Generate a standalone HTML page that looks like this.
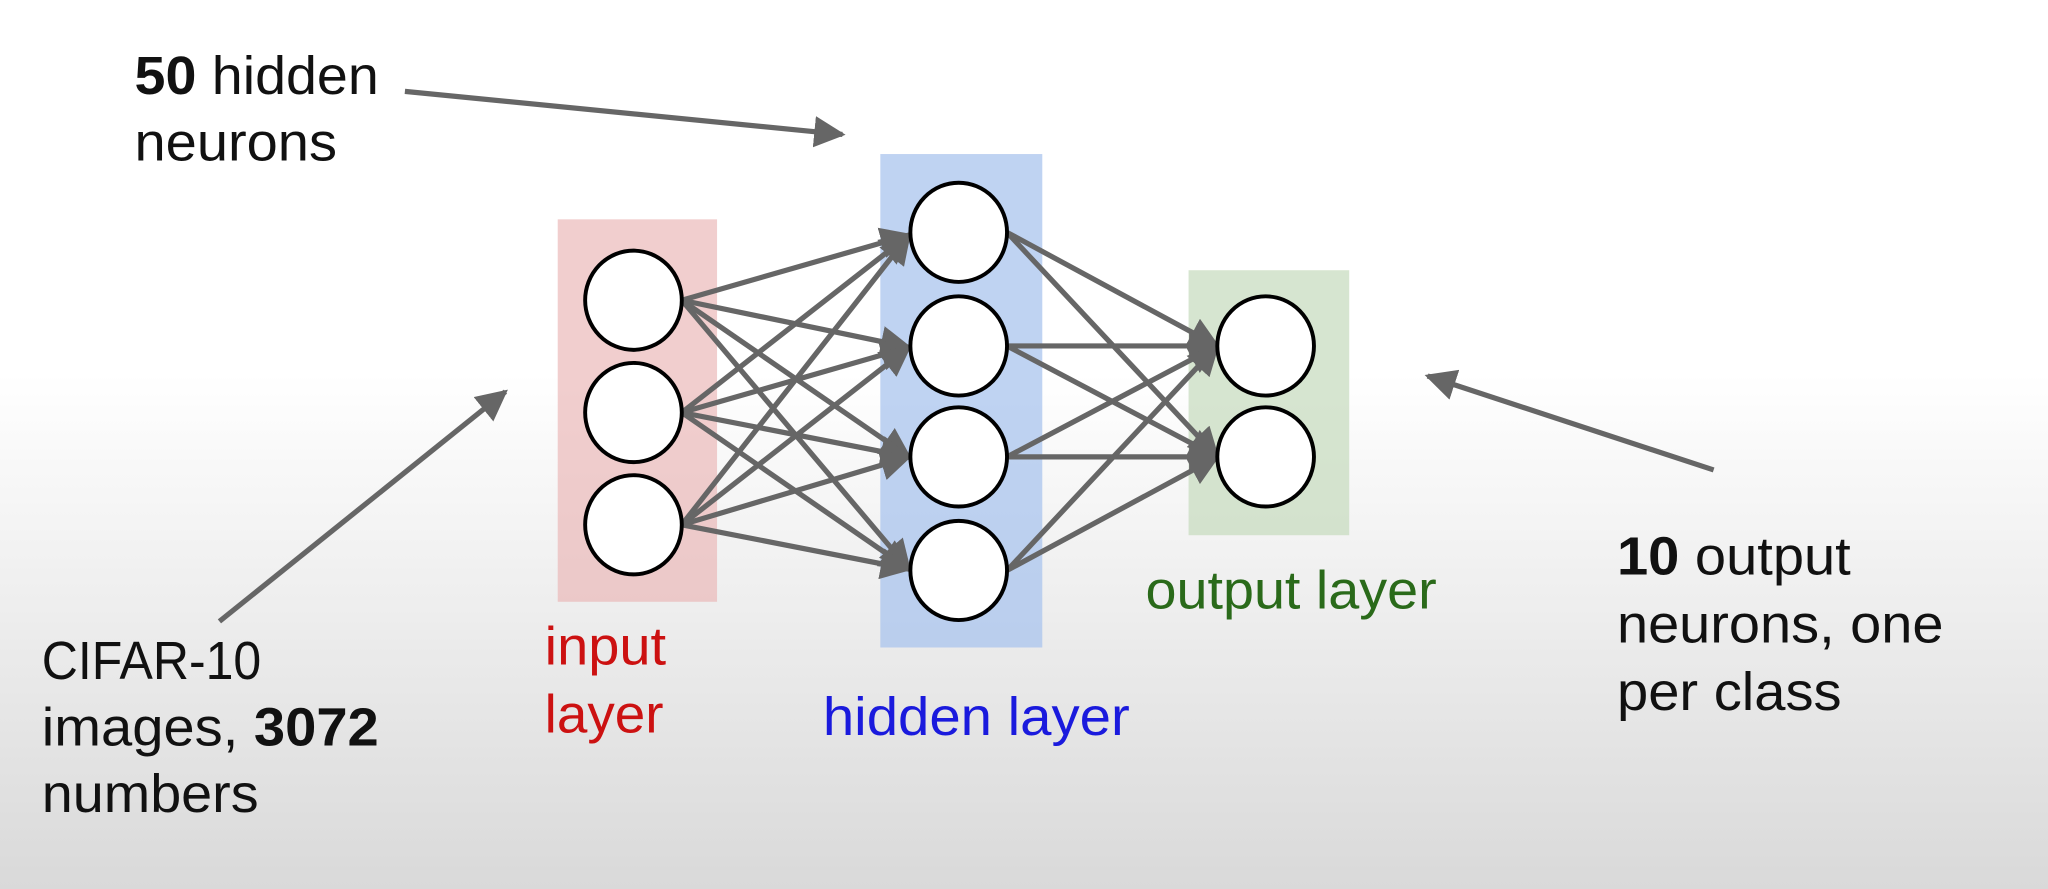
<!DOCTYPE html>
<html><head><meta charset="utf-8"><style>
html,body{margin:0;padding:0;width:2048px;height:889px;overflow:hidden}
svg{display:block}
text{font-family:"Liberation Sans",Arial,sans-serif;font-size:41px}
</style></head><body>
<svg width="2048" height="889" viewBox="0 0 1568 681" preserveAspectRatio="none" xmlns="http://www.w3.org/2000/svg">
<defs>
<linearGradient id="bg" x1="0" y1="0" x2="0" y2="1">
<stop offset="0" stop-color="#ffffff"/>
<stop offset="0.42" stop-color="#ffffff"/>
<stop offset="1" stop-color="#d9d9d9"/>
</linearGradient>
<marker id="ah" viewBox="0 0 10 10" refX="9" refY="5" markerWidth="6" markerHeight="6" markerUnits="strokeWidth" orient="auto">
<path d="M0,0 L10,5 L0,10 z" fill="#666"/>
</marker>
</defs>
<rect x="0" y="0" width="1568" height="681" fill="url(#bg)"/>
<rect x="427" y="168" width="122" height="293" fill="#e9b3b3" opacity="0.65"/>
<rect x="674" y="118" width="124" height="378" fill="#a9c4ee" opacity="0.75"/>
<rect x="910" y="207" width="123" height="203" fill="#c8dcc0" opacity="0.75"/>
<g stroke="#666" stroke-width="4" fill="none" marker-end="url(#ah)">
<line x1="522" y1="230" x2="696" y2="180"/>
<line x1="522" y1="230" x2="696" y2="266"/>
<line x1="522" y1="230" x2="696" y2="350"/>
<line x1="522" y1="230" x2="696" y2="436"/>
<line x1="522" y1="316" x2="696" y2="180"/>
<line x1="522" y1="316" x2="696" y2="266"/>
<line x1="522" y1="316" x2="696" y2="350"/>
<line x1="522" y1="316" x2="696" y2="436"/>
<line x1="522" y1="402" x2="696" y2="180"/>
<line x1="522" y1="402" x2="696" y2="266"/>
<line x1="522" y1="402" x2="696" y2="350"/>
<line x1="522" y1="402" x2="696" y2="436"/>
<line x1="771" y1="178" x2="932" y2="265"/>
<line x1="771" y1="178" x2="932" y2="350"/>
<line x1="771" y1="265" x2="932" y2="265"/>
<line x1="771" y1="265" x2="932" y2="350"/>
<line x1="771" y1="350" x2="932" y2="265"/>
<line x1="771" y1="350" x2="932" y2="350"/>
<line x1="771" y1="437" x2="932" y2="265"/>
<line x1="771" y1="437" x2="932" y2="350"/>
<line x1="310" y1="70" x2="645" y2="103"/>
<line x1="168" y1="476" x2="387" y2="300"/>
<line x1="1312" y1="360" x2="1093" y2="288"/>
</g>
<g fill="#fff" stroke="#000" stroke-width="3">
<ellipse cx="485" cy="230" rx="37" ry="38"/>
<ellipse cx="485" cy="316" rx="37" ry="38"/>
<ellipse cx="485" cy="402" rx="37" ry="38"/>
<ellipse cx="734" cy="178" rx="37" ry="38"/>
<ellipse cx="734" cy="265" rx="37" ry="38"/>
<ellipse cx="734" cy="350" rx="37" ry="38"/>
<ellipse cx="734" cy="437" rx="37" ry="38"/>
<ellipse cx="969" cy="265" rx="37" ry="38"/>
<ellipse cx="969" cy="350" rx="37" ry="38"/>
</g>
<g fill="#111">
<text x="103" y="72" textLength="187" lengthAdjust="spacingAndGlyphs"><tspan font-weight="bold">50</tspan> hidden</text>
<text x="103" y="123" textLength="155" lengthAdjust="spacingAndGlyphs">neurons</text>
<text x="32" y="520" textLength="168" lengthAdjust="spacingAndGlyphs">CIFAR-10</text>
<text x="32" y="571" textLength="258" lengthAdjust="spacingAndGlyphs">images, <tspan font-weight="bold">3072</tspan></text>
<text x="32" y="622" textLength="166" lengthAdjust="spacingAndGlyphs">numbers</text>
<text x="1238" y="440" textLength="179" lengthAdjust="spacingAndGlyphs"><tspan font-weight="bold">10</tspan> output</text>
<text x="1238" y="492" textLength="250" lengthAdjust="spacingAndGlyphs">neurons, one</text>
<text x="1238" y="544" textLength="172" lengthAdjust="spacingAndGlyphs">per class</text>
</g>
<text x="417" y="509" fill="#cc1111" textLength="93" lengthAdjust="spacingAndGlyphs">input</text>
<text x="417" y="561" fill="#cc1111" textLength="91" lengthAdjust="spacingAndGlyphs">layer</text>
<text x="630" y="563" fill="#1a1add" textLength="235" lengthAdjust="spacingAndGlyphs">hidden layer</text>
<text x="877" y="466" fill="#2a6a1a" textLength="223" lengthAdjust="spacingAndGlyphs">output layer</text>
</svg>
</body></html>
